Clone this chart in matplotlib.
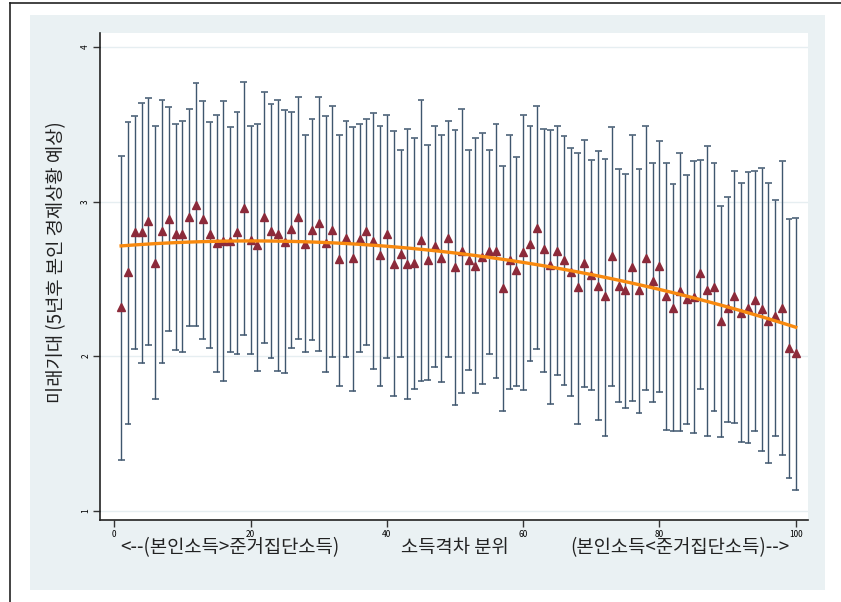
"""quintile plot of future expectation by income gap"""
import numpy as np
import matplotlib.pyplot as plt
from matplotlib.lines import Line2D
from matplotlib.patches import Rectangle

plt.rcParams['font.family'] = ['Noto Sans CJK KR', 'DejaVu Sans']

GAP_RANK = list(range(1, 101))
MEAN = [
    2.315, 2.541, 2.80, 2.80, 2.877, 2.60, 2.81, 2.888, 2.79, 2.79,
    2.90, 2.977, 2.888, 2.79, 2.73, 2.746, 2.746, 2.80, 2.955, 2.75,
    2.716, 2.90, 2.81, 2.79, 2.735, 2.82, 2.90, 2.725, 2.817, 2.864,
    2.73, 2.813, 2.628, 2.761, 2.632, 2.757, 2.81, 2.746, 2.653, 2.79,
    2.593, 2.662, 2.597, 2.60, 2.752, 2.619, 2.71, 2.632, 2.761, 2.576,
    2.681, 2.619, 2.584, 2.641, 2.681, 2.681, 2.438, 2.619, 2.555, 2.673,
    2.727, 2.83, 2.692, 2.589, 2.681, 2.623, 2.546, 2.447, 2.60, 2.526,
    2.455, 2.386, 2.645, 2.455, 2.429, 2.574, 2.429, 2.634, 2.483, 2.584,
    2.39, 2.31, 2.422, 2.369, 2.382, 2.536, 2.429, 2.447, 2.225, 2.31,
    2.386, 2.278, 2.31, 2.36, 2.305, 2.225, 2.257, 2.31, 2.052, 2.02]
UPPER = [
    3.295, 3.513, 3.55, 3.64, 3.668, 3.49, 3.657, 3.61, 3.50, 3.52,
    3.60, 3.765, 3.65, 3.513, 3.56, 3.65, 3.48, 3.58, 3.774, 3.49,
    3.50, 3.707, 3.63, 3.657, 3.59, 3.58, 3.677, 3.433, 3.533, 3.677,
    3.55, 3.62, 3.433, 3.524, 3.483, 3.50, 3.533, 3.571, 3.49, 3.56,
    3.453, 3.336, 3.472, 3.414, 3.657, 3.365, 3.49, 3.433, 3.52, 3.463,
    3.60, 3.336, 3.414, 3.444, 3.336, 3.50, 3.229, 3.433, 3.287, 3.56,
    3.49, 3.62, 3.472, 3.463, 3.49, 3.425, 3.347, 3.317, 3.397, 3.268,
    3.326, 3.278, 3.483, 3.209, 3.179, 3.433, 3.209, 3.491, 3.248, 3.394,
    3.248, 3.112, 3.315, 3.171, 3.259, 3.268, 3.356, 3.248, 2.974, 3.032,
    3.198, 3.121, 3.19, 3.198, 3.22, 3.121, 3.013, 3.259, 2.886, 2.895]
LOWER = [
    1.33, 1.563, 2.043, 1.957, 2.074, 1.72, 1.957, 2.162, 2.041, 2.024,
    2.192, 2.192, 2.112, 2.054, 1.897, 1.839, 2.024, 2.016, 2.134, 2.016,
    1.906, 2.085, 1.985, 1.906, 1.888, 2.054, 2.112, 2.024, 2.104, 2.035,
    1.897, 1.996, 1.809, 1.996, 1.772, 2.024, 2.074, 1.917, 1.809, 1.985,
    1.74, 1.996, 1.723, 1.79, 1.839, 1.847, 1.927, 1.83, 1.996, 1.681,
    1.761, 1.908, 1.761, 1.82, 2.016, 1.861, 1.643, 1.79, 1.809, 1.781,
    1.966, 2.043, 1.897, 1.692, 1.879, 1.81, 1.74, 1.563, 1.80, 1.781,
    1.585, 1.485, 1.809, 1.703, 1.662, 1.712, 1.632, 1.778, 1.703, 1.77,
    1.524, 1.516, 1.516, 1.563, 1.505, 1.79, 1.485, 1.643, 1.477, 1.574,
    1.565, 1.447, 1.438, 1.516, 1.389, 1.31, 1.485, 1.358, 1.212, 1.135]

# points
FIT_X = [1, 13, 40, 55, 68, 85, 100]
FIT_Y = [2.70, 2.757, 2.716, 2.634, 2.537, 2.375, 2.192]

X_TICKS = [0, 20, 40, 60, 80, 100]
Y_TICKS = [1, 2, 3, 4]
X_LABEL_PARTS = ["<--(본인소득>준거집단소득)", "소득격차 분위", "(본인소득<준거집단소득)-->"]
X_LABEL_POS = [17, 50, 83]
Y_LABEL = "미래기대 (5년후 본인 경제상황 예상)"


def plot():
    """drawing the chart"""
    fig = plt.figure(figsize=(8.41, 6.02), dpi=100)
    fig.patch.set_facecolor('white')
    # graph region panel
    fig.patches.append(Rectangle((30 / 841, 12 / 602), 795 / 841, 575 / 602,
                                 transform=fig.transFigure, facecolor='#eaf1f3',
                                 edgecolor='none', zorder=-5))
    # outer frame (cropped at right and bottom)
    fig.lines.append(Line2D([10 / 841, 10 / 841], [0, 599 / 602],
                            transform=fig.transFigure, color='#222222', lw=1.2))
    fig.lines.append(Line2D([10 / 841, 1], [599 / 602, 599 / 602],
                            transform=fig.transFigure, color='#222222', lw=1.2))

    ax = fig.add_axes([100 / 841, 82 / 602, 708 / 841, 487 / 602])
    ax.set_zorder(2)
    ax.set_facecolor('white')
    x = np.array(GAP_RANK)
    mean = np.array(MEAN)
    low = np.array(LOWER)
    up = np.array(UPPER)

    ax.vlines(x, low, up, color='#3f566e', lw=1.0, zorder=2)
    ax.hlines(low, x - 0.5, x + 0.5, color='#3f566e', lw=1.1, zorder=2)
    ax.hlines(up, x - 0.5, x + 0.5, color='#3f566e', lw=1.1, zorder=2)
    ax.plot(x, mean, '^', color='#8c2a3a', markersize=6.2, zorder=3)

    coef = np.polyfit(FIT_X, FIT_Y, 2)
    ax.plot(x, np.polyval(coef, x), color='#f8890f', lw=2.4, zorder=4)

    ax.set_xlim(-2.1, 101.8)
    ax.set_ylim(0.94, 4.09)
    ax.set_xticks(X_TICKS)
    ax.set_yticks(Y_TICKS)
    ax.set_xticklabels([str(t) for t in X_TICKS], fontsize=6)
    ax.set_yticklabels([str(t) for t in Y_TICKS], fontsize=6, rotation=90,
                       va='center')
    ax.tick_params(axis='both', length=5, width=1, color='#333333', pad=2)
    ax.yaxis.grid(True, color='#e6eef1', lw=1.0)
    ax.set_axisbelow(True)
    for side in ['top', 'right']:
        ax.spines[side].set_visible(False)
    for side in ['left', 'bottom']:
        ax.spines[side].set_color('#222222')
        ax.spines[side].set_linewidth(1.2)

    # x title in three pieces, like the original
    for part, pos in zip(X_LABEL_PARTS, X_LABEL_POS):
        ax.text(pos, -0.057, part, transform=ax.get_xaxis_transform(),
                ha='center', va='center', fontsize=13.5, color='#222222')
    ax.set_ylabel(Y_LABEL, fontsize=13.5, color='#222222')
    ax.yaxis.set_label_coords(-0.047, 0.53)
    fig.savefig('out.png', dpi=100)


plot()
